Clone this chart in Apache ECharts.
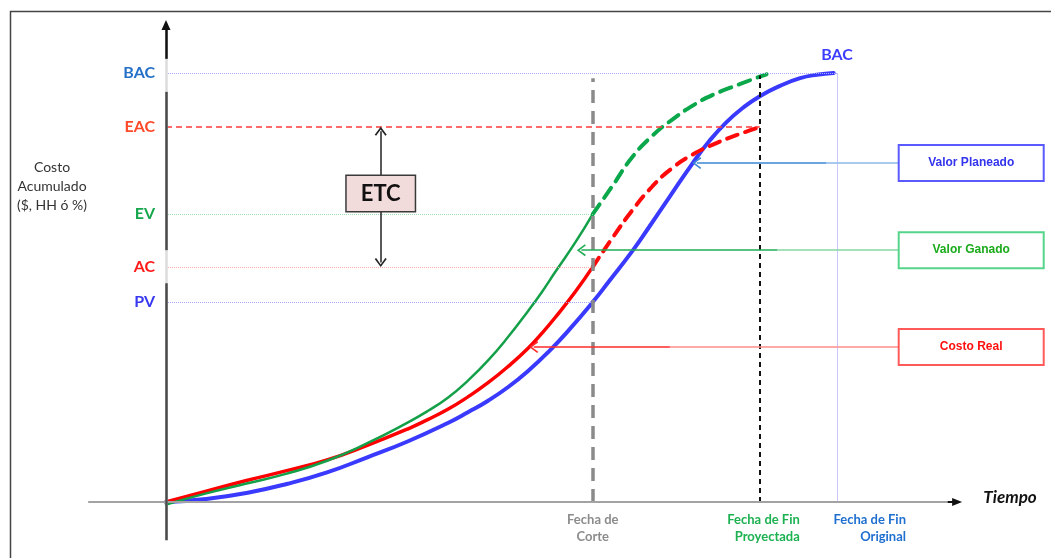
<!DOCTYPE html>
<html>
<head>
<meta charset="utf-8">
<script src="https://cdn.jsdelivr.net/npm/echarts@6/dist/echarts.min.js"></script>
<style>
  html, body { margin: 0; padding: 0; background: #fff; }
  #chart { width: 1051px; height: 558px; }
</style>
</head>
<body>
<div id="chart"></div>
<script>
// Curva S de valor ganado: tiempo (0..100 = fin original) vs costo acumulado (0..100 = BAC)

// Valor Planeado (PV)
const pvTime = [0, 6, 12, 18, 24, 30, 36, 42, 45, 48, 51, 54, 57, 60, 63.6, 66, 69.6, 72, 75, 78.5, 81, 83.5, 86, 88.5, 91.5, 94.5, 97, 99.5];
const pvCost = [0, 0.7, 2.1, 4.2, 6.9, 10.4, 14.1, 18.4, 20.9, 23.6, 26.8, 30.6, 35.0, 40.0, 46.6, 51.4, 58.7, 64.1, 71.0, 79.0, 84.2, 88.5, 91.9, 94.6, 97.0, 98.8, 99.6, 100];

// Costo Real (AC) hasta la fecha de corte
const acTime = [0, 6, 12, 18, 24, 30, 36, 39, 42, 45, 48, 51, 54, 56, 58, 61, 63.6];
const acCost = [0, 2.5, 5.0, 7.3, 9.8, 13.2, 17.0, 19.2, 21.6, 24.5, 27.8, 31.6, 35.9, 39.3, 43.0, 49.0, 54.8];

// Proyección del costo real hasta EAC
const acForecastTime = [63.6, 66.5, 69.5, 72.5, 75.5, 78.5, 81.5, 85, 88.5];
const acForecastCost = [54.8, 61.5, 68.0, 73.6, 77.9, 81.0, 83.3, 85.5, 87.4];

// Valor Ganado (EV) hasta la fecha de corte
const evTime = [0, 6, 12, 18, 24, 30, 36, 39, 42, 45, 48, 51, 54, 56, 58, 61, 63.6];
const evCost = [-0.6, 2.0, 4.3, 6.6, 9.6, 13.7, 18.5, 21.2, 24.3, 28.3, 33.0, 38.5, 44.6, 48.9, 53.6, 60.5, 67.1];

// Proyección del valor ganado
const evForecastTime = [63.6, 66.5, 69.5, 72.5, 75.5, 78.5, 81.5, 85.5, 89.5];
const evForecastCost = [67.1, 73.6, 80.4, 85.4, 89.2, 92.4, 94.9, 97.4, 99.7];

// Niveles del eje de costo
const levelNames = ['BAC', 'EAC', 'EV', 'AC', 'PV'];
const levelValues = [100, 87.4, 67.1, 54.8, 46.6];

// Fechas del eje de tiempo
const dateNames = ['Fecha de\nCorte', 'Fecha de Fin\nProyectada', 'Fecha de Fin\nOriginal'];
const dateValues = [63.6, 88.5, 100];

// Rótulos de las curvas
const calloutNames = ['Valor Planeado', 'Valor Ganado', 'Costo Real'];

// ---------------------------------------------------------------
const pairs = (xs, ys) => xs.map((x, i) => [x, ys[i]]);
const lvl = name => levelValues[levelNames.indexOf(name)];
const BAC = lvl('BAC'), EAC = lvl('EAC'), EV = lvl('EV'), AC = lvl('AC'), PV = lvl('PV');
const [tCut, tProj, tOrig] = dateValues;

const FONT = 'Lato, "Open Sans", sans-serif';
const CHEVRON = 'path://M6,0 L12,8 L10.6,9 L6,2.6 L1.4,9 L0,8 Z';

const seg = (a, b, style, symbols, size) => [
  { coord: a, symbol: symbols ? symbols[0] : 'none', symbolSize: size || 10,
    lineStyle: Object.assign({ type: 'solid', opacity: 1 }, style) },
  { coord: b, symbol: symbols ? symbols[1] : 'none', symbolSize: size || 10 }
];

const txt = (coord, text, label) => ({
  coord: coord,
  label: Object.assign({ show: true, formatter: text, fontFamily: FONT, fontWeight: 'bold', textBorderWidth: 0 }, label)
});

const levelColors = { BAC: '#2470c8', EAC: '#ff4a2a', EV: '#16a64c', AC: '#ff1a1a', PV: '#3838f0' };
const guideColors = { BAC: '#a9adff', EV: '#9fdcb0', AC: '#ffaaaa', PV: '#a8a8ff' };

// líneas de referencia (debajo de las curvas)
const guideLines = [
  seg([0, BAC], [tOrig, BAC], { color: guideColors.BAC, width: 1, type: 'dotted' }),
  seg([tOrig, 0], [tOrig, BAC], { color: '#c9c9ff', width: 1 }),
  seg([0, EAC], [tProj, EAC], { color: '#ff3b3b', width: 1.6, type: [6, 4] }),
  seg([0, EV], [tCut, EV], { color: guideColors.EV, width: 1, type: 'dotted' }),
  seg([0, AC], [tCut, AC], { color: guideColors.AC, width: 1, type: 'dotted' }),
  seg([0, PV], [tCut, PV], { color: guideColors.PV, width: 1, type: 'dotted' }),
  seg([tCut, 0], [tCut, 98.8], { color: '#8a8a8a', width: 3.5, type: [13, 8] }),
  seg([tProj, 0], [tProj, BAC - 0.6], { color: '#111', width: 2, type: [5, 4] }),
  // eje de tiempo
  seg([-11.6, 0], [117.5, 0], { color: '#a3a3a3', width: 2 }),
  seg([116.5, 0], [117.9, 0], { color: '#111', width: 2 }, ['none', 'triangle'], [8, 10]),
  // eje de costo (con huecos tras los rótulos)
  seg([0, -8.9], [0, 111], { color: '#dcdcdc', width: 2.5 }),
  seg([0, -8.9], [0, 51.0], { color: '#4a4a4a', width: 2.5 }),
  seg([0, 58.7], [0, 95.6], { color: '#4a4a4a', width: 2.5 }),
  seg([0, 103.3], [0, 111.2], { color: '#111', width: 2.5 }, ['none', 'triangle'], [9, 10])
];

// llamadas, flechas y textos (encima de las curvas)
const calloutLevels = [79.0, 58.7, 36.1];
const calloutTips = [78.5, 61.3, 54.2];
const calloutSplit = [98.4, 91.1, 75.1];
const calloutBoxT = 120.0, calloutBoxLeft = 109.1;
const calloutStyles = [
  { dark: '#3b86d6', light: '#8bb9ea', border: '#5a5aff', text: '#3333ee' },
  { dark: '#22ad55', light: '#86d6a3', border: '#55d58a', text: '#1aaa1a' },
  { dark: '#ff2a2a', light: '#ff8c8c', border: '#ff5a5a', text: '#ff1010' }
];

const calloutLines = [];
calloutNames.forEach((n, i) => {
  const v = calloutLevels[i], s = calloutStyles[i];
  calloutLines.push(seg([calloutBoxLeft, v], [calloutSplit[i], v], { color: s.light, width: 1.5 }));
  calloutLines.push(seg([calloutSplit[i], v], [calloutTips[i] + 0.6, v], { color: s.dark, width: 1.5 }, ['none', CHEVRON], [12, 9]));
});
calloutLines.push(seg([32, EAC - 1.0], [32, AC + 1.0], { color: '#222', width: 1.5 }, [CHEVRON, CHEVRON], [12, 9]));

const labels = [];
levelNames.forEach((n, i) => {
  labels.push(txt([0, levelValues[i]], n, { position: 'left', distance: 11, fontSize: 16, color: levelColors[n] }));
});
labels.push(txt([tOrig, BAC], 'BAC', { position: 'top', distance: 10, fontSize: 16, color: '#3d3dff' }));
const dateColors = ['#8c8c8c', '#1db152', '#1f6fd0'];
const dateOffsets = [[0, 0], [40, 0], [69, 0]];
dateNames.forEach((n, i) => {
  labels.push(txt([dateValues[i], 0], n, {
    position: 'bottom', distance: 9, fontSize: 13, lineHeight: 17,
    align: i === 0 ? 'center' : 'right', offset: dateOffsets[i], color: dateColors[i]
  }));
});
labels.push(txt([32, 71.9], 'ETC', {
  position: 'inside', fontSize: 22, color: '#111', backgroundColor: '#f2dcdb',
  borderColor: '#3a3a3a', borderWidth: 1.5, width: 68, height: 35, lineHeight: 35,
  align: 'center', verticalAlign: 'middle', padding: 0
}));
calloutNames.forEach((n, i) => {
  const s = calloutStyles[i];
  labels.push(txt([calloutBoxT, calloutLevels[i]], n, {
    position: 'inside', fontSize: 12, fontFamily: '"Liberation Sans", Arial, sans-serif',
    color: s.text, backgroundColor: '#fff', borderColor: s.border, borderWidth: 2,
    width: 143, height: 34, lineHeight: 34, align: 'center', verticalAlign: 'middle', padding: 0
  }));
});

const curve = (name, data, color, width, type, z) => ({
  name: name, type: 'line', data: data, smooth: 0.5,
  showSymbol: false, symbol: 'none', z: z || 3, silent: true,
  lineStyle: { color: color, width: width, type: type || 'solid', cap: 'round' }
});

const chart = echarts.init(document.getElementById('chart'), null, { renderer: 'canvas' });
chart.setOption({
  animation: false,
  backgroundColor: '#fff',
  grid: { left: 11.67, right: 2.63, top: 12.94, bottom: 0.26, containLabel: false },
  xAxis: { type: 'value', min: -23, max: 131.5, show: false },
  yAxis: { type: 'value', min: -13, max: 114, show: false },
  graphic: [
    { type: 'polyline', shape: { points: [[10.5, 558], [10.5, 11.5], [1051, 11.5]] },
      style: { stroke: '#444', lineWidth: 1.5, fill: null }, silent: true },
    { type: 'text', x: 52, y: 186, silent: true,
      style: { text: 'Costo\nAcumulado\n($, HH ó %)', fill: '#333', font: '14px Lato, sans-serif',
               align: 'center', verticalAlign: 'middle', lineHeight: 19 } },
    { type: 'text', x: 1010, y: 498, silent: true,
      style: { text: 'Tiempo', fill: '#111', font: 'italic bold 17px Lato, sans-serif',
               align: 'center', verticalAlign: 'middle' } }
  ],
  series: [
    { name: 'guías', type: 'line', data: [], z: 1, silent: true,
      markLine: { silent: true, animation: false, label: { show: false }, symbol: 'none', data: guideLines } },
    curve('Valor Planeado', pairs(pvTime, pvCost), '#3a3aff', 4),
    curve('Costo Real', pairs(acTime, acCost), '#ff0000', 3.5),
    curve('Costo Real proyectado', pairs(acForecastTime, acForecastCost), '#ff0a0a', 4, [11, 8]),
    curve('Valor Ganado', pairs(evTime, evCost), '#14a048', 2.5),
    curve('Valor Ganado proyectado', pairs(evForecastTime, evForecastCost), '#0aa84a', 4, [12, 8]),
    { name: 'llamadas', type: 'line', data: [], z: 5, silent: true,
      markLine: { silent: true, animation: false, label: { show: false }, symbol: 'none', data: calloutLines },
      markPoint: { silent: true, animation: false, symbol: 'circle', symbolSize: 0,
                   itemStyle: { color: 'rgba(0,0,0,0)' }, data: labels } }
  ]
});
</script>
</body>
</html>
